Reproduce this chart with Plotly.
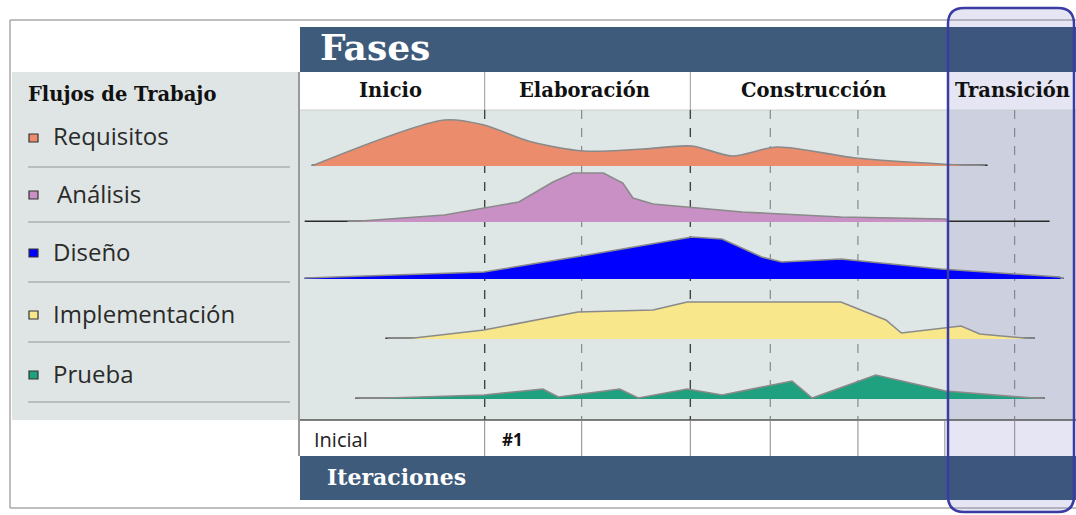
import plotly.graph_objects as go

# Canvas size (px)
W, H = 1076, 515

# ---- data (timeline 0-100 % of project, effort in relative units) ----
workflows = ["Requisitos", "Análisis", "Diseño", "Implementación", "Prueba"]
colors = ["#eb8d6c", "#c990c6", "#0000ff", "#f9e78c", "#1fa07f"]

req_t = [1.5, 18.6, 23.7, 29.4, 36.5, 44.2, 50.5, 55.7, 61.5, 71.6, 82.6, 88.3]
req_h = [0, 46, 41, 25, 15, 17, 20, 10, 19, 8, 2, 0]

ana_t = [6.1, 18.6, 28.2, 32.6, 35.2, 39.1, 41.6, 42.9, 45.5, 57.0, 69.7, 83.2, 83.6]
ana_h = [0, 7, 20, 40, 49, 49, 39, 24, 18, 10, 5, 3, 0]

dis_t = [0.6, 23.7, 37.8, 50.5, 54.4, 59.5, 62.1, 69.7, 82.6, 97.9, 98.3]
dis_h = [1, 7, 25, 42, 40, 22, 17, 20, 10, 2, 0]

imp_t = [11.2, 14.7, 23.7, 35.8, 45.5, 49.9, 69.7, 75.5, 77.5, 85.2, 87.6, 94.7]
imp_h = [0, 1, 9, 27, 29, 37, 37, 19, 6, 13, 5, 0]

pru_t = [7.1, 23.7, 31.3, 33.3, 41.2, 43.6, 49.9, 54.4, 63.4, 66.0, 74.2, 83.2, 96.0]
pru_h = [0, 4, 10, 2, 10, 1, 10, 4, 18, 1, 24, 8, 0]

series_t = [req_t, ana_t, dis_t, imp_t, pru_t]
series_h = [req_h, ana_h, dis_h, imp_h, pru_h]
smooth = [True, False, False, False, False]

# baseline extent of each row (timeline units)
base_start = [1.5, 0.6, 0.6, 11.0, 7.1]
base_end = [88.6, 96.6, 98.4, 94.7, 96.0]

phases = ["Inicio", "Elaboración", "Construcción", "Transición"]
phase_bounds = [0, 23.8, 50.3, 83.1, 100]
iter_lines = [23.8, 36.3, 50.3, 60.6, 71.9, 92.1]
iter_labels = ["Inicial", "#1"]

# ---- geometry helpers ----
def px(x):
    return x / W

def py(y):
    return 1 - y / H

X0, X1 = 300, 1076          # chart area, px
def tx(t):                    # timeline unit -> px
    return X0 + t * (X1 - X0) / 100

row_base = [166, 222, 279, 339, 399]   # baseline of each row, px
ROW_H = 55

DARK = "#3e5b7b"
fig = go.Figure()

for i, name in enumerate(workflows):
    ax = "" if i == 0 else str(i + 1)
    # dark baseline
    fig.add_trace(go.Scatter(
        x=[base_start[i], base_end[i]], y=[0, 0], xaxis="x", yaxis="y" + ax,
        mode="lines", line=dict(color="#2a2a2a", width=3), hoverinfo="skip",
        showlegend=False))
    fig.add_trace(go.Scatter(
        x=series_t[i], y=series_h[i], xaxis="x", yaxis="y" + ax, name=name,
        mode="lines", fill="tozeroy", fillcolor=colors[i],
        line=dict(color="#8a8a8a", width=1.6,
                  shape="spline" if smooth[i] else "linear", smoothing=0.8),
        showlegend=False))

layout_axes = {}
for i in range(5):
    key = "yaxis" if i == 0 else f"yaxis{i + 1}"
    layout_axes[key] = dict(
        domain=[py(row_base[i]), py(row_base[i] - ROW_H)], range=[0, ROW_H],
        visible=False, fixedrange=True)

shapes = []
def rect(x0, y0, x1, y1, fill, line=None, lw=0, layer="below"):
    shapes.append(dict(type="rect", xref="paper", yref="paper",
                       x0=px(x0), x1=px(x1), y0=py(y1), y1=py(y0),
                       fillcolor=fill, line=dict(color=line or fill, width=lw),
                       layer=layer))

def line(x0, y0, x1, y1, color, width=1, dash="solid", layer="below"):
    shapes.append(dict(type="line", xref="paper", yref="paper",
                       x0=px(x0), x1=px(x1), y0=py(y0), y1=py(y1),
                       line=dict(color=color, width=width, dash=dash), layer=layer))

def rounded(x0, y0, x1, y1, r):
    xa, xb, ya, yb = px(x0), px(x1), py(y0), py(y1)
    rx, ry = r / W, r / H
    return (f"M {xa + rx},{ya} L {xb - rx},{ya} Q {xb},{ya} {xb},{ya - ry} "
            f"L {xb},{yb + ry} Q {xb},{yb} {xb - rx},{yb} L {xa + rx},{yb} "
            f"Q {xa},{yb} {xa},{yb + ry} L {xa},{ya - ry} Q {xa},{ya} {xa + rx},{ya} Z")

# frame (open on the right) and light panels
line(10, 20, W, 20, "#a8a8a8", 1.5)
line(10, 20, 10, 508, "#a8a8a8", 1.5)
line(10, 508, W, 508, "#a8a8a8", 1.5)
rect(12, 72, 298, 420, "#dfe5e5")
rect(X0, 72, X1, 110, "white")
rect(X0, 110, X1, 420, "#dfe6e6")
rect(X0, 420, X1, 456, "white")
# transition tint
shapes.append(dict(type="path", xref="paper", yref="paper",
                   path=rounded(948, 8, 1074, 512, 16),
                   fillcolor="rgba(140,136,200,0.22)", line=dict(width=0),
                   layer="below"))
# dark bars
rect(X0, 27, X1, 72, DARK)
rect(X0, 456, X1, 500, DARK)
rect(948, 27, X1, 72, "rgba(60,60,140,0.12)")
rect(948, 456, X1, 500, "rgba(60,60,140,0.12)")

line(299, 72, 299, 456, "#777777", 1.5)
line(X0, 420, X1, 420, "#555555", 1.5)
line(X0, 110, X1, 110, "#c8d0d0", 1)

for b in phase_bounds[1:3]:
    line(tx(b), 72, tx(b), 110, "#9a9a9a", 1)
for t in iter_lines:
    dark = t in (23.8, 50.3)
    line(tx(t), 110, tx(t), 420, "#444444" if dark else "#777777",
         1.4 if dark else 1, "dash")
for t in iter_lines + [83.1]:
    line(tx(t), 420, tx(t), 456, "#8a8a8a", 1)

for yy in [167, 222, 282, 342, 402]:
    line(28, yy, 290, yy, "#a9b1b1", 1.5)

# transition border
shapes.append(dict(type="path", xref="paper", yref="paper",
                   path=rounded(948, 8, 1074, 512, 16),
                   line=dict(color="#3a3ca4", width=2.5), layer="above"))

# legend squares
leg_y = [138, 195, 253, 315, 375]
for c, yy in zip(colors, leg_y):
    rect(29, yy - 4, 38, yy + 4, c, "#333333", 1.2, layer="above")

annotations = []
def text(x, y, s, size, color="#111111", family="Open Sans", xanchor="left", bold=False):
    annotations.append(dict(xref="paper", yref="paper", x=px(x), y=py(y),
                            text=f"<b>{s}</b>" if bold else s, showarrow=False,
                            xanchor=xanchor, yanchor="middle",
                            font=dict(size=size, color=color, family=family)))

SERIF = "DejaVu Serif"
text(318, 47, "Fases", 36, "white", SERIF, bold=True)
text(26, 94, "Flujos de Trabajo", 19.5, "#111111", SERIF, bold=True)
phase_cx = [390, 584, 813, 1012]
for p, cx in zip(phases, phase_cx):
    text(cx, 90, p, 19.5, "#111111", SERIF, "center", bold=True)

leg_x = [51, 55, 51, 51, 51]
for name, xx, yy in zip(workflows, leg_x, leg_y):
    text(xx, yy - 2, name, 24, "#2a2a2a", "Open Sans")

text(312, 439, iter_labels[0], 20, "#222222", "Open Sans")
text(512, 439, iter_labels[1], 17, "#111111", "Open Sans", "center", bold=True)
text(325, 477, "Iteraciones", 22, "white", SERIF, bold=True)

fig.update_layout(
    width=W, height=H, margin=dict(l=0, r=0, t=0, b=0),
    paper_bgcolor="white", plot_bgcolor="rgba(0,0,0,0)",
    xaxis=dict(domain=[px(X0), px(X1)], range=[0, 100], visible=False,
               fixedrange=True),
    shapes=shapes, annotations=annotations, showlegend=False,
    **layout_axes)

fig.write_html("out.html", config={"displayModeBar": False},
               post_script="document.body.style.margin='0';")
